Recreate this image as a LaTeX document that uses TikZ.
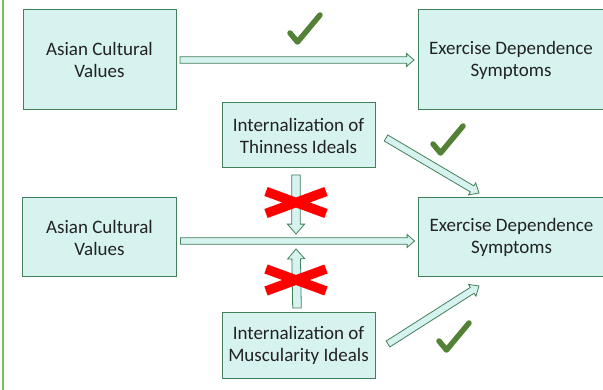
\documentclass[tikz,border=0pt]{standalone}
\usepackage{fontspec}
\setmainfont{Carlito}
\usepackage{tikz}
\usetikzlibrary{
	positioning,
	calc
}

\definecolor{boxfill}{HTML}{D6F3EF}
\definecolor{boxline}{HTML}{41805A}
\definecolor{tickgreen}{HTML}{538135}
\definecolor{sidebar}{HTML}{7DBF5A}
\definecolor{textgray}{HTML}{222222}

\tikzset{
	factor/.style={draw=boxline, fill=boxfill, line width=1pt, outer sep=0pt,
		inner sep=2pt, align=center, text=textgray,
		font=\fontsize{19}{22}\selectfont},
	fatarrow/.style={draw=boxline, fill=boxfill, line width=0.8pt},
	checkmark/.pic={
		\draw[tickgreen, line width=5.5pt, line cap=round, line join=round]
			(3,21) -- (10.5,30) -- (33,3);
	},
	crossout/.pic={
		\draw[red, line width=9.5pt]
			(-30,-11) -- (30,11)
			(-30,11) -- (30,-11);
	}
}

% block arrow: #1 half width of the shaft, #2 tail, #3 tip
\newcommand\fatarrow[3]{%
	\pgfmathsetlengthmacro\headw{2*#1}%
	\pgfmathsetlengthmacro\headl{2.3*#1}%
	\coordinate (fa-s) at (#2);
	\coordinate (fa-e) at (#3);
	\draw[fatarrow]
		($(fa-s)!#1!90:(fa-e)$)
		-- ($(fa-e)!\headl!(fa-s)!#1!-90:(fa-s)$)
		-- ($(fa-e)!\headl!(fa-s)!\headw!-90:(fa-s)$)
		-- (fa-e)
		-- ($(fa-e)!\headl!(fa-s)!\headw!90:(fa-s)$)
		-- ($(fa-e)!\headl!(fa-s)!#1!90:(fa-s)$)
		-- ($(fa-s)!#1!-90:(fa-e)$) -- cycle;%
}

\begin{document}
\begin{tikzpicture}[x=1pt, y=-1pt]
	\useasboundingbox (0,0) rectangle (603,390);
	\draw[sidebar, line width=2pt] (3,0) -- (3,390);

	% top model
	\node[factor, minimum width=153pt, minimum height=100pt] (A1) at (99.5,60) {Asian Cultural\\Values};
	\node[factor, minimum width=186pt, minimum height=100pt, right=242pt of A1] (E1) {Exercise Dependence\\Symptoms};

	% mediators and bottom model
	\node[factor, minimum width=153pt, minimum height=65pt] (T) at (298.5,135.5) {Internalization of\\Thinness Ideals};
	\node[factor, minimum width=154pt, minimum height=79pt, below=88pt of A1] (A2) {Asian Cultural\\Values};
	\node[factor, minimum width=186pt, minimum height=79pt, right=242pt of A2] (E2) {Exercise Dependence\\Symptoms};
	\node[factor, minimum width=153pt, minimum height=65pt, below=145pt of T] (M) {Internalization of\\Muscularity Ideals};

	\coordinate (medT) at (296,234);
	\coordinate (medM) at (296,249);

	\fatarrow{3.2pt}{[xshift=4pt]A1.east}{[xshift=-4pt]E1.west}
	\fatarrow{3.2pt}{[xshift=4pt,yshift=-3.5pt]A2.east}{[xshift=-4pt,yshift=-3.5pt]E2.west}
	\fatarrow{4.3pt}{[xshift=-2.5pt,yshift=-7pt]T.south}{medT}
	\fatarrow{4.3pt}{[xshift=-1.5pt,yshift=5pt]M.north}{medM}
	\fatarrow{3.5pt}{[xshift=11pt,yshift=-2.5pt]T.east}{[xshift=-32.5pt,yshift=5pt]E2.north}
	\fatarrow{3.5pt}{[xshift=13pt,yshift=1.5pt]M.east}{[xshift=-32.5pt,yshift=-9pt]E2.south}

	\pic at (287,12) {checkmark};
	\pic at (430,123) {checkmark};
	\pic at (436,320) {checkmark};
	\pic at (296,202.5) {crossout};
	\pic at (296,280) {crossout};
\end{tikzpicture}
\end{document}
